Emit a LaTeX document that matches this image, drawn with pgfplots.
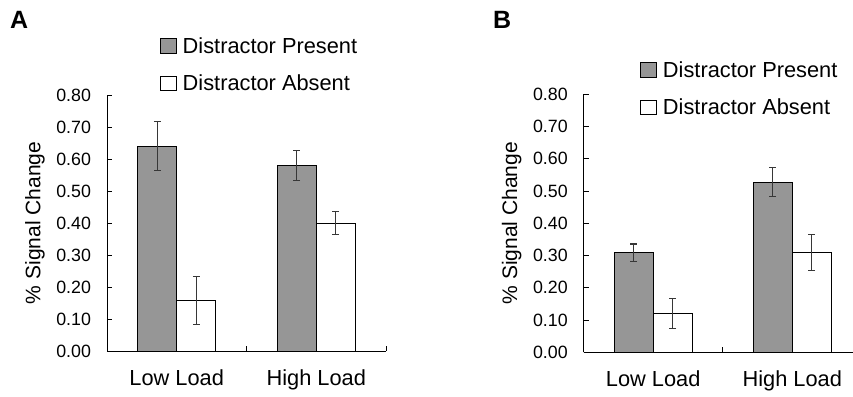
\documentclass[border=0pt]{standalone}
\usepackage{pgfplots}
\pgfplotsset{compat=1.18}
\usepackage{fontspec}
\setmainfont{Liberation Sans}
\definecolor{barfill}{RGB}{150,150,150}
\definecolor{errc}{RGB}{55,55,55}
\pgfplotsset{
  panel/.style={
    scale only axis, anchor=south west,
    ybar=0pt, bar width=39pt,
    ymin=0, ymax=0.8, xmin=-0.5,
    ytick={0,0.1,0.2,0.3,0.4,0.5,0.6,0.7,0.8},
    yticklabels={0.00,0.10,0.20,0.30,0.40,0.50,0.60,0.70,0.80},
    yticklabel style={font=\fontsize{17.8}{20}\selectfont, xshift=-12.5pt},
    axis x line*=bottom, axis y line*=left,
    axis line style={black, line width=1pt},
    tick style={black, line width=1pt},
    tick align=inside, major tick length=5pt,
    xtick={0.5,1.5}, xticklabels={},
    extra x ticks={0,1},
    extra x tick labels={Low Load, High Load},
    extra x tick style={major tick length=0pt, xticklabel style={font=\fontsize{21.8}{25}\selectfont, yshift=-15pt}},
    ylabel={\% Signal Change},
    every axis y label/.style={at={(axis description cs:0,0.5)}, xshift=-72pt, rotate=90, anchor=center, font=\fontsize{21}{24}\selectfont},
    legend cell align=left,
    legend style={draw=none, fill=none, font=\fontsize{21.8}{25}\selectfont, anchor=north west, inner sep=0pt, row sep=16pt,
      /tikz/every odd column/.append style={column sep=3.5pt}},
  },
  barpres/.style={fill=barfill, draw=black, line width=1pt, legend image code/.code={\draw[##1] (0pt,-7pt) rectangle (16pt,7.5pt);},
    error bars/.cd, y dir=both, y explicit,
    error bar style={errc, line width=1.2pt},
    error mark options={rotate=90, mark size=3.4pt, errc, line width=1.2pt}},
  barabs/.style={fill=white, draw=black, line width=1pt, legend image code/.code={\draw[##1] (0pt,-7pt) rectangle (16pt,7.5pt);},
    error bars/.cd, y dir=both, y explicit,
    error bar style={errc, line width=1.2pt},
    error mark options={rotate=90, mark size=3.4pt, errc, line width=1.2pt}},
}
\begin{document}
\begin{tikzpicture}
\path[use as bounding box] (0,0) rectangle (853pt,396pt);
\node[anchor=base west, font=\fontsize{25}{28}\selectfont\bfseries, inner sep=0pt] at (10pt,367pt) {A};
\node[anchor=base west, font=\fontsize{25}{28}\selectfont\bfseries, inner sep=0pt] at (493pt,367pt) {B};
\begin{axis}[panel, at={(107pt,45pt)}, width=279pt, height=256pt, xmax=1.5,
  legend style={at={(axis description cs:0.19,1.232)}}]
\addplot[barpres] coordinates {(0,0.640) +- (0,0.076) (1,0.579) +- (0,0.047)};
\addplot[barabs] coordinates {(0,0.157) +- (0,0.075) (1,0.400) +- (0,0.037)};
\legend{Distractor Present, Distractor Absent}
\end{axis}
\begin{axis}[panel, at={(583.7pt,43.7pt)}, width=269.3pt, height=258pt, xmax=1.437,
  legend style={at={(axis description cs:0.21,1.135)}}]
\addplot[barpres] coordinates {(0,0.309) +- (0,0.027) (1,0.527) +- (0,0.045)};
\addplot[barabs] coordinates {(0,0.121) +- (0,0.047) (1,0.309) +- (0,0.056)};
\legend{Distractor Present, Distractor Absent}
\end{axis}
\end{tikzpicture}
\end{document}
